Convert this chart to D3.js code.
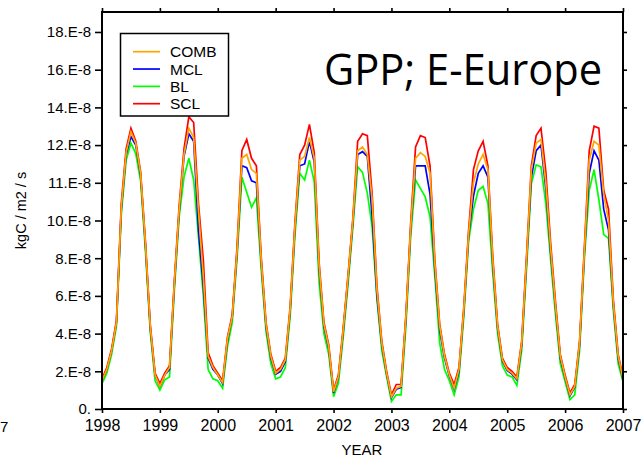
<!DOCTYPE html>
<meta charset="utf-8">
<script src="https://d3js.org/d3.v7.min.js"></script>
<style>
  body { margin: 0; background: #fff; }
  text { font-family: "Liberation Sans", Arial, sans-serif; fill: #000; }
</style>

<div id="my_dataviz"></div>

<script>

// monthly values, Jan 1998 .. Jan 2007 (units follow the evenly spaced y ticks)
var comb = [1.5, 2.1, 3.1, 4.6, 10.7, 13.6, 14.7, 14.1, 12.5, 8.8, 4.4, 1.8,
            1.2, 1.8, 2.2, 6.7, 10.6, 13.5, 14.9, 14.4, 10.5, 7.0, 2.8, 2.2,
            1.8, 1.4, 3.7, 4.9, 8.4, 13.3, 13.5, 12.7, 12.5, 7.9, 4.5, 2.8,
            1.9, 2.1, 2.6, 5.3, 9.7, 13.2, 13.4, 14.4, 13.3, 7.6, 4.5, 3.3,
            0.9, 1.7, 4.2, 7.0, 10.0, 13.7, 13.9, 13.5, 11.1, 6.3, 3.5, 1.9,
            0.65, 1.1, 1.2, 4.9, 9.7, 13.3, 13.6, 13.4, 12.5, 7.7, 4.4, 2.8,
            1.8, 1.1, 2.1, 5.3, 9.3, 12.0, 13.0, 13.5, 12.7, 7.9, 4.4, 2.6,
            2.1, 1.9, 1.6, 3.5, 7.9, 12.7, 14.1, 14.3, 12.0, 8.5, 5.5, 2.8,
            1.7, 0.75, 1.2, 3.5, 8.4, 13.2, 14.2, 14.0, 11.4, 10.0, 5.6, 2.8,
            1.6];
var mcl = [1.5, 2.1, 3.1, 4.6, 10.6, 13.5, 14.45, 14.0, 12.4, 8.7, 4.3, 1.8,
           1.2, 1.8, 2.1, 6.6, 10.5, 13.4, 14.6, 14.2, 9.5, 6.5, 2.7, 2.1,
           1.8, 1.35, 3.6, 4.9, 8.3, 12.9, 12.8, 12.1, 12.0, 7.8, 4.4, 2.7,
           1.85, 2.0, 2.5, 5.2, 9.6, 12.9, 13.0, 14.2, 13.1, 7.4, 4.4, 3.2,
           0.85, 1.65, 4.1, 6.9, 9.9, 13.5, 13.65, 13.4, 10.2, 6.0, 3.4, 1.85,
           0.6, 1.05, 1.15, 4.8, 9.6, 12.9, 12.9, 12.9, 11.4, 7.4, 4.2, 2.7,
           1.75, 1.05, 2.0, 5.2, 9.2, 11.3, 12.5, 12.9, 12.3, 7.7, 4.3, 2.55,
           2.05, 1.85, 1.55, 3.4, 7.8, 12.3, 13.7, 14.0, 11.7, 8.3, 5.4, 2.7,
           1.65, 0.7, 1.15, 3.4, 8.3, 12.5, 13.7, 13.2, 10.6, 9.5, 5.5, 2.7,
           1.55];
var bl = [1.35, 1.9, 2.9, 4.4, 10.3, 13.2, 14.1, 13.55, 12.1, 8.4, 4.1, 1.5,
          1.0, 1.55, 1.7, 6.3, 10.2, 12.3, 13.3, 12.15, 9.1, 6.0, 2.1, 1.6,
          1.5, 1.1, 3.3, 4.6, 8.0, 12.3, 11.5, 10.7, 11.2, 7.4, 4.1, 2.4,
          1.6, 1.7, 2.2, 4.9, 9.2, 12.5, 12.15, 13.2, 12.05, 6.7, 4.0, 2.9,
          0.65, 1.35, 3.8, 6.6, 9.6, 12.85, 12.55, 11.45, 9.65, 5.8, 3.1, 1.7,
          0.4, 0.75, 0.75, 4.4, 9.2, 12.15, 11.7, 11.25, 10.2, 7.0, 3.5, 2.1,
          1.5, 0.75, 1.7, 4.9, 8.9, 10.6, 11.6, 11.8, 10.9, 7.2, 4.0, 2.3,
          1.8, 1.7, 1.25, 3.1, 7.4, 11.95, 12.95, 12.85, 10.9, 7.9, 5.0, 2.4,
          1.45, 0.5, 0.75, 3.1, 8.0, 11.6, 12.7, 11.1, 9.25, 9.05, 5.2, 2.4,
          1.45];
var scl = [1.6, 2.2, 3.2, 4.7, 10.9, 13.8, 14.9, 14.2, 12.6, 8.9, 4.5, 1.9,
           1.35, 1.9, 2.3, 6.8, 10.8, 13.8, 15.5, 15.2, 10.9, 7.9, 3.0, 2.3,
           1.9, 1.5, 3.8, 5.0, 8.6, 13.7, 14.3, 13.3, 12.9, 8.1, 4.6, 2.9,
           2.0, 2.2, 2.7, 5.4, 9.9, 13.5, 14.0, 15.1, 13.6, 7.8, 4.6, 3.4,
           1.0, 1.8, 4.3, 7.1, 10.1, 14.2, 14.6, 14.5, 11.4, 6.5, 3.6, 2.0,
           0.75, 1.3, 1.3, 5.0, 9.9, 13.9, 14.5, 14.4, 12.9, 7.9, 4.5, 2.9,
           1.9, 1.3, 2.2, 5.4, 9.5, 12.7, 13.7, 14.2, 12.9, 8.1, 4.5, 2.7,
           2.2, 2.0, 1.7, 3.6, 8.1, 12.9, 14.5, 14.9, 12.6, 8.8, 5.7, 2.9,
           1.8, 0.85, 1.3, 3.6, 8.6, 13.7, 15.0, 14.9, 11.6, 10.6, 5.8, 2.9,
           1.7];

var years = [1998, 1999, 2000, 2001, 2002, 2003, 2004, 2005, 2006, 2007];
var yTickValues = [0, 2, 4, 6, 8, 10, 12, 14, 16, 18, 20];
var yTickLabels = ["0.", "2.E-8", "4.E-8", "6.E-8", "8.E-8", "10.E-8",
                   "11.E-8", "12.E-8", "14.E-8", "16.E-8", "18.E-8"];

var legendNames = ["COMB", "MCL", "BL", "SCL"];
var legendColors = ["#ffa500", "#0000ff", "#00ff00", "#ff0000"];

// set the dimensions and margins of the graph
var margin = {top: 12, right: 21, bottom: 50, left: 102},
    width = 644 - margin.left - margin.right,
    height = 459 - margin.top - margin.bottom;

var root = d3.select("#my_dataviz")
  .append("svg")
    .attr("width", 644)
    .attr("height", 459);

var svg = root.append("g")
    .attr("transform", "translate(" + margin.left + "," + margin.top + ")");

var x = d3.scaleLinear()
  .domain([1998, 2007])
  .range([0, width]);

var y = d3.scaleLinear()
  .domain([0, 21.06])
  .range([height, 0]);

// axes on all four sides, ticks pointing out
function styleAxis(g) {
  g.select(".domain").remove();
  g.selectAll(".tick line").attr("stroke", "#000").attr("stroke-width", 1.6);
}

svg.append("g")
  .call(d3.axisLeft(y).tickValues(yTickValues)
        .tickFormat(function(d, i) { return yTickLabels[i]; })
        .tickSize(7).tickPadding(4))
  .call(styleAxis)
  .selectAll("text")
    .style("font-size", "15px")
    .style("font-family", "'Liberation Sans', Arial, sans-serif");

svg.append("g")
  .attr("transform", "translate(" + width + ",0)")
  .call(d3.axisRight(y).tickValues(yTickValues).tickFormat("").tickSize(4))
  .call(styleAxis);

svg.append("g")
  .attr("transform", "translate(0," + height + ")")
  .call(d3.axisBottom(x).tickValues(years).tickFormat(d3.format("d"))
        .tickSize(4).tickPadding(7))
  .call(styleAxis)
  .selectAll("text")
    .style("font-size", "16px")
    .style("font-family", "'Liberation Sans', Arial, sans-serif");

svg.append("g")
  .call(d3.axisTop(x).tickValues(years).tickFormat("").tickSize(4))
  .call(styleAxis);

// lines
var line = d3.line()
  .x(function(d, i) { return x(1998 + i / 12); })
  .y(function(d) { return y(d); });

var drawOrder = [
  {values: bl, color: "#00ff00"},
  {values: mcl, color: "#0000ff"},
  {values: scl, color: "#ff0000"},
  {values: comb, color: "#ffa500"}
];

drawOrder.forEach(function(s) {
  svg.append("path")
    .datum(s.values)
    .attr("fill", "none")
    .attr("stroke", s.color)
    .attr("stroke-width", 1.7)
    .attr("stroke-linejoin", "miter")
    .attr("d", line);
});

// frame
svg.append("rect")
  .attr("width", width)
  .attr("height", height)
  .attr("fill", "none")
  .attr("stroke", "#000")
  .attr("stroke-width", 2);

// legend
var legend = root.append("g");
legend.append("rect")
  .attr("x", 120.5)
  .attr("y", 33.5)
  .attr("width", 108)
  .attr("height", 82.5)
  .attr("fill", "#fff")
  .attr("stroke", "#000")
  .attr("stroke-width", 1.5);

legendNames.forEach(function(name, i) {
  var ly = 51.7 + i * 17.33;
  legend.append("line")
    .attr("x1", 133).attr("x2", 160)
    .attr("y1", ly).attr("y2", ly)
    .attr("stroke", legendColors[i])
    .attr("stroke-width", 1.7);
  legend.append("text")
    .attr("x", 170)
    .attr("y", ly)
    .attr("dy", "0.36em")
    .style("font-size", "15.5px")
    .text(name);
});

// title
root.append("text")
  .attr("x", 324)
  .attr("y", 85)
  .attr("textLength", 278)
  .attr("lengthAdjust", "spacingAndGlyphs")
  .style("font-family", "'Open Sans', sans-serif")
  .style("font-size", "43px")
  .text("GPP; E-Europe");

// axis titles
root.append("text")
  .attr("x", 362)
  .attr("y", 455)
  .style("text-anchor", "middle")
  .style("font-size", "15px")
  .text("YEAR");

root.append("text")
  .attr("transform", "translate(26," + (margin.top + height / 2) + ") rotate(-90)")
  .style("text-anchor", "middle")
  .style("font-size", "14.5px")
  .text("kgC / m2 / s");

// leftover digit at the left edge (end of a neighbouring panel's label)
root.append("text")
  .attr("x", 0)
  .attr("y", 432)
  .style("font-size", "15px")
  .text("7");

</script>
